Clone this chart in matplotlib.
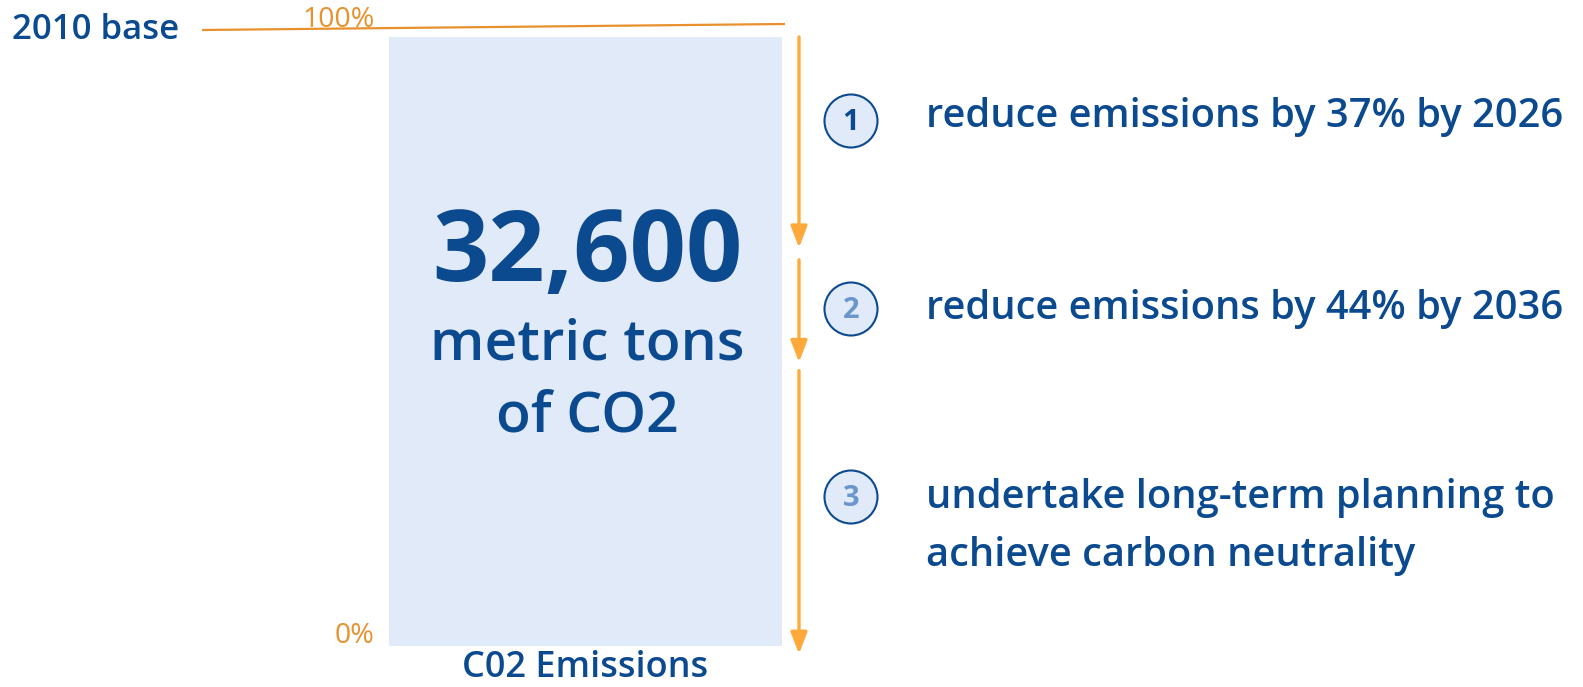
import matplotlib
matplotlib.use("Agg")
import matplotlib.pyplot as plt
from matplotlib.patches import Circle

# ---- data ----
bar_label = "C02 Emissions"
bar_value = 100          # percent of 2010 base
big_number = "32,600"
unit_lines = ["metric tons", "of CO2"]
base_label = "2010 base"
tick_top = "100%"
tick_bottom = "0%"
# arrow segments in percent of base (start, end)
seg_start = [100, 63.4, 45.2]
seg_end = [65.4, 46.6, -1.3]
step_numbers = ["1", "2", "3"]
step_texts = ["reduce emissions by 37% by 2026",
              "reduce emissions by 44% by 2036",
              "undertake long-term planning to\nachieve carbon neutrality"]

DARK = "#0B4A8F"
LIGHT_NUM = "#6A96CC"
FILL = "#E1EAF9"
ORANGE = "#FFA93A"
ORANGE_D = "#E8912D"
FONT = "Open Sans"
WT = "semibold"

W, H = 1583, 687
fig = plt.figure(figsize=(W / 100, H / 100), dpi=100)

# bar axes: percent scale, y=0 at pixel 646, y=100 at pixel 37
y0p, y100p = 646, 37
span = y0p - y100p
ylo = -(H - y0p) / span * 100
yhi = y0p / span * 100
ax = fig.add_axes([0, 0, 1, 1])
ax.set_xlim(0, W)
ax.set_ylim(ylo, yhi)
ax.axis("off")
ax.bar([585.5], [bar_value], width=393, bottom=0, color=FILL, zorder=1)

# overlay axes in pixel coordinates
ov = fig.add_axes([0, 0, 1, 1], facecolor="none")
ov.set_xlim(0, W)
ov.set_ylim(H, 0)
ov.axis("off")

def pct_to_px(p):
    return y0p - span * p / 100.0

# arrows
ax_x = 799
for s, e in zip(seg_start, seg_end):
    ov.annotate("", xy=(ax_x, pct_to_px(e)), xytext=(ax_x, pct_to_px(s)),
                arrowprops=dict(arrowstyle="-|>,head_length=1.3,head_width=0.5",
                                mutation_scale=10, color=ORANGE, lw=2.4,
                                shrinkA=0, shrinkB=0), zorder=3)

# base line
ov.plot([202, 785], [30, 24], color=ORANGE_D, lw=1.6, solid_capstyle="butt", zorder=2)
ov.text(12, 39, base_label, fontsize=25, fontweight=WT, color=DARK,
        family=FONT, ha="left", va="baseline")
ov.text(339, 27, tick_top, fontsize=20.5, color=ORANGE_D, family=FONT,
        ha="center", va="baseline")
ov.text(374, 643, tick_bottom, fontsize=20.5, color=ORANGE_D, family=FONT,
        ha="right", va="baseline")

# bar texts
ov.text(587, 281, big_number, fontsize=71, fontweight="bold", color=DARK,
        family=FONT, ha="center", va="baseline")
ov.text(587, 360, unit_lines[0], fontsize=41, fontweight=WT, color=DARK,
        family=FONT, ha="center", va="baseline")
ov.text(587, 432, unit_lines[1], fontsize=41, fontweight=WT, color=DARK,
        family=FONT, ha="center", va="baseline")
ov.text(585, 677, bar_label, fontsize=26, fontweight=WT, color=DARK,
        family=FONT, ha="center", va="baseline")

# steps
circ_y = [121, 309, 497]
text_base = [127, 319, 508]
num_colors = [DARK, LIGHT_NUM, LIGHT_NUM]
for cy, tb, n, t, nc in zip(circ_y, text_base, step_numbers, step_texts, num_colors):
    ov.add_patch(Circle((851, cy), 26.5, facecolor=FILL, edgecolor=DARK, lw=1.5, zorder=3))
    ov.text(851, cy + 1, n, fontsize=21, fontweight="bold", color=nc, family=FONT,
            ha="center", va="center", zorder=4)
    lines = t.split("\n")
    for i, ln in enumerate(lines):
        ov.text(926, tb + i * 58, ln, fontsize=28.7, fontweight=WT, color=DARK,
                family=FONT, ha="left", va="baseline")

fig.savefig("out.png", dpi=100)
